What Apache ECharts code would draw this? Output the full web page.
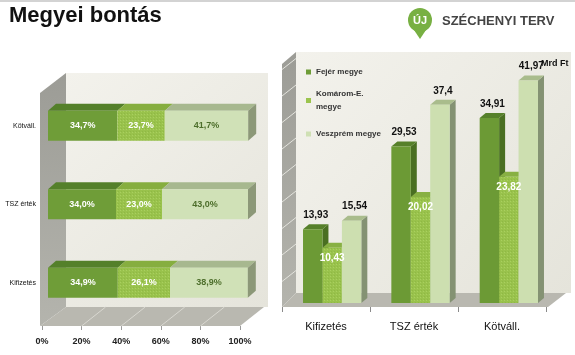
<!DOCTYPE html>
<html><head><meta charset="utf-8">
<script src="https://cdn.jsdelivr.net/npm/echarts@6/dist/echarts.min.js"></script>
<style>html,body{margin:0;padding:0;background:#fff}#c{width:575px;height:355px}</style>
</head><body><div id="c"></div>
<script>
const titleText = 'Megyei bontás';
const seriesNames = ['Fejér megye', 'Komárom-E. megye', 'Veszprém megye'];
const categories = ['Kifizetés', 'TSZ érték', 'Kötváll.'];
const shareFejer = [34.9, 34.0, 34.7];
const shareKomarom = [26.1, 23.0, 23.7];
const shareVeszprem = [38.9, 43.0, 41.7];
const pctTicks = [0, 20, 40, 60, 80, 100];
const amountFejer = [13.93, 29.53, 34.91];
const amountKomarom = [10.43, 20.02, 23.82];
const amountVeszprem = [15.54, 37.4, 41.97];
const amountTicks = [5, 10, 15, 20, 25, 30, 35, 40, 45];
const unitLabel = 'Mrd Ft';

const F = '"Liberation Sans", Arial, sans-serif';
const fmt = v => String(v).replace('.', ',');
const fmt1 = v => v.toFixed(1).replace('.', ',');

// subtle dotted texture for Komárom
const pc = document.createElement('canvas'); pc.width = 3; pc.height = 3;
const g = pc.getContext('2d');
g.fillStyle = '#99c24c'; g.fillRect(0, 0, 3, 3);
g.fillStyle = '#a9d05f'; g.fillRect(0, 0, 1, 1);
g.fillStyle = '#8fb944'; g.fillRect(1, 2, 1, 1);
const dotted = {image: pc, repeat: 'repeat'};

const legendColors = ['#6e9c37', '#9bc44e', '#cfe0b4'];
const L = [
  {front: '#6f9d38', top: '#54802a', side: '#4a6f22', label: '#ffffff'},
  {front: dotted, top: '#86ae3f', side: '#6f9432', label: '#ffffff'},
  {front: '#d0e1b7', top: '#a7b88f', side: '#8c9878', label: '#4d6e2b'}
];
const R = [
  {front: '#6c9a35', top: '#56802a', side: '#4a6f22'},
  {front: dotted, top: '#88b043', side: '#6f9432'},
  {front: '#cddfb0', top: '#a9bc8c', side: '#849273'}
];

const shares = [shareFejer, shareKomarom, shareVeszprem];
const amounts = [amountFejer, amountKomarom, amountVeszprem];
const leftData = shares.map((arr, s) => arr.map((v, c) => {
  let st = 0; for (let k = 0; k < s; k++) st += shares[k][c];
  return [st, c, st + v, v];
}));
const rightData = amounts.map(arr => arr.map((v, c) => [c, v]));

function leftRender(s) {
  return (params, api) => {
    const st = api.value(0), c = api.value(1), en = api.value(2), v = api.value(3);
    const a = api.coord([st, c]), b = api.coord([en, c]);
    const h = api.size([0, 1])[1] * 0.385;
    const yT = a[1] - h / 2, yB = a[1] + h / 2, x0 = a[0], x1 = b[0];
    const dx = 8, dy = 7;
    const ch = [
      {type: 'polygon', shape: {points: [[x0, yT], [x0 + dx, yT - dy], [x1 + dx, yT - dy], [x1, yT]]}, style: {fill: L[s].top}},
      {type: 'rect', shape: {x: x0, y: yT, width: x1 - x0, height: yB - yT}, style: {fill: L[s].front}}
    ];
    if (s === 2) ch.push({type: 'polygon', shape: {points: [[x1, yT], [x1 + dx, yT - dy], [x1 + dx, yB - dy], [x1, yB]]}, style: {fill: L[s].side}});
    ch.push({type: 'text', z2: 50, style: {text: fmt1(v) + '%', x: (x0 + x1) / 2, y: a[1], align: 'center', verticalAlign: 'middle', fill: L[s].label, font: 'bold 9px ' + F}});
    return {type: 'group', children: ch};
  };
}

function rightRender(s) {
  return (params, api) => {
    const c = api.value(0), v = api.value(1);
    const band = api.size([1, 0])[0], w = band * 0.22;
    const p = api.coord([c, v]), b = api.coord([c, 0]);
    const x0 = p[0] + (s - 1.5) * w, x1 = x0 + w, yT = p[1], yB = b[1];
    const dx = 6, dy = 5;
    const ch = [
      {type: 'polygon', shape: {points: [[x1, yT], [x1 + dx, yT - dy], [x1 + dx, yB - dy], [x1, yB]]}, style: {fill: R[s].side}},
      {type: 'polygon', shape: {points: [[x0, yT], [x0 + dx, yT - dy], [x1 + dx, yT - dy], [x1, yT]]}, style: {fill: R[s].top}},
      {type: 'rect', shape: {x: x0, y: yT, width: w, height: yB - yT}, style: {fill: R[s].front}}
    ];
    const inside = s === 1;
    ch.push({type: 'text', z2: 60, style: {
      text: fmt(v), x: (x0 + x1) / 2 + (inside ? 0 : 3), y: inside ? yT + 10.5 : yT - 14,
      align: 'center', verticalAlign: 'middle', fill: inside ? '#ffffff' : '#111111', font: 'bold 10px ' + F}});
    return {type: 'group', children: ch};
  };
}

const chart = echarts.init(document.getElementById('c'), null, {renderer: 'canvas'});

const series = [];
series.push({
  type: 'custom', xAxisIndex: 1, yAxisIndex: 1, silent: true, z: 1,
  data: pctTicks.slice(1, -1).map(t => [t, 0]),
  renderItem: (params, api) => {
    const p = api.coord([api.value(0), 0]);
    return {type: 'line', shape: {x1: p[0], y1: p[1], x2: p[0] + 24, y2: p[1] - 19}, style: {stroke: '#d9d8d1', lineWidth: 1}};
  }
});
series.push({
  type: 'custom', xAxisIndex: 2, yAxisIndex: 2, silent: true, z: 1,
  data: amountTicks.map(t => [0, t]),
  renderItem: (params, api) => {
    const y = api.coord([0, api.value(1)])[1];
    const x = params.coordSys.x;
    return {type: 'line', shape: {x1: x - 6, y1: y + 5, x2: x + 8, y2: y - 6}, style: {stroke: '#e4e4de', lineWidth: 1}};
  }
});
seriesNames.forEach((name, s) => {
  series.push({type: 'custom', name, xAxisIndex: 0, yAxisIndex: 0, itemStyle: {color: legendColors[s]},
    encode: {x: [0, 2], y: 1}, data: leftData[s], renderItem: leftRender(s)});
});
seriesNames.forEach((name, s) => {
  series.push({type: 'custom', name, xAxisIndex: 2, yAxisIndex: 2, itemStyle: {color: legendColors[s]},
    encode: {x: 0, y: 1}, data: rightData[s], renderItem: rightRender(s)});
});

const wallGrad = () => new echarts.graphic.LinearGradient(0, 0, 1, 1, [{offset: 0, color: '#f3f2ec'}, {offset: 1, color: '#e5e4db'}]);
const sideGrad = () => new echarts.graphic.LinearGradient(0, 0, 0, 1, [{offset: 0, color: '#9c9c96'}, {offset: 1, color: '#b4b4ad'}]);

chart.setOption({
  animation: false,
  backgroundColor: '#ffffff',
  title: {text: titleText, left: 4, top: 0, textStyle: {fontFamily: F, fontSize: 22, fontWeight: 'bold', color: '#111'}},
  legend: [
    {data: [seriesNames[0]], left: 306, top: 66.5, orient: 'vertical', padding: 0, itemWidth: 5, itemHeight: 5, icon: 'rect',
      selectedMode: false, textStyle: {fontFamily: F, fontSize: 8, fontWeight: 'bold', color: '#333', lineHeight: 11}},
    {data: [seriesNames[1]], left: 306, top: 81, orient: 'vertical', padding: 0, itemWidth: 5, itemHeight: 5, icon: 'rect',
      selectedMode: false, formatter: () => 'Komárom-E.\nmegye',
      textStyle: {fontFamily: F, fontSize: 8, fontWeight: 'bold', color: '#333', lineHeight: 13, padding: [13, 0, 0, 0]}},
    {data: [seriesNames[2]], left: 306, top: 128.5, orient: 'vertical', padding: 0, itemWidth: 5, itemHeight: 5, icon: 'rect',
      selectedMode: false, textStyle: {fontFamily: F, fontSize: 8, fontWeight: 'bold', color: '#333', lineHeight: 11}}
  ],
  grid: [
    {left: 48, width: 200, top: 86.5, height: 235.5, outerBoundsMode: 'none'},
    {left: 42, width: 198, top: 86, height: 240, outerBoundsMode: 'none'},
    {left: 288, width: 265, top: 38, height: 265, outerBoundsMode: 'none'},
    {left: 282, width: 264, top: 38, height: 269, outerBoundsMode: 'none'}
  ],
  xAxis: [
    {gridIndex: 0, type: 'value', min: 0, max: 100, show: false},
    {gridIndex: 1, type: 'value', min: 0, max: 100, interval: 20,
      axisLine: {show: false}, splitLine: {show: false},
      axisTick: {show: true, length: 4, lineStyle: {color: '#9a9a9a'}},
      axisLabel: {formatter: '{value}%', fontFamily: F, fontSize: 9, fontWeight: 'bold', color: '#222', margin: 11}},
    {gridIndex: 2, type: 'category', data: categories, show: false},
    {gridIndex: 3, type: 'category', data: categories,
      axisLine: {show: false}, splitLine: {show: false},
      axisTick: {show: true, length: 5, lineStyle: {color: '#8a8a8a'}},
      axisLabel: {fontFamily: F, fontSize: 11, color: '#111', margin: 14}}
  ],
  yAxis: [
    {gridIndex: 0, type: 'category', data: categories, axisLine: {show: false}, axisTick: {show: false},
      axisLabel: {fontFamily: F, fontSize: 7, color: '#111', margin: 12, padding: [18, 0, 0, 0]}},
    {gridIndex: 1, type: 'value', min: 0, max: 1, show: false},
    {gridIndex: 2, type: 'value', min: 0, max: 50, show: false},
    {gridIndex: 3, type: 'value', min: 0, max: 1, show: false}
  ],
  graphic: [
    {type: 'rect', z: 0, shape: {x: 0, y: 0, width: 575, height: 2}, style: {fill: '#d3d3d3'}},
    {type: 'polygon', z: 0, shape: {points: [[412, 27], [428, 27], [420, 39]]}, style: {fill: '#78b043'}},
    {type: 'circle', z: 0, shape: {cx: 420, cy: 20, r: 12}, style: {fill: '#78b043'}},
    {type: 'text', z: 1, style: {text: 'ÚJ', x: 420, y: 21, align: 'center', verticalAlign: 'middle', fill: '#fff', font: 'bold 11px ' + F}},
    {type: 'text', z: 1, style: {text: 'SZÉCHENYI TERV', x: 442, y: 21, align: 'left', verticalAlign: 'middle', fill: '#444', font: 'bold 13px ' + F}},
    {type: 'polygon', z: 0, shape: {points: [[66, 73], [268, 73], [268, 307], [66, 307]]}, style: {fill: wallGrad()}},
    {type: 'polygon', z: 0, shape: {points: [[40, 93], [66, 73], [66, 307], [40, 326]]}, style: {fill: sideGrad()}},
    {type: 'polygon', z: 0, shape: {points: [[40, 326], [66, 307], [264, 307], [240, 326]]}, style: {fill: '#b9b8b0'}},
    {type: 'polygon', z: 0, shape: {points: [[296, 52], [571, 52], [571, 293], [296, 293]]}, style: {fill: wallGrad()}},
    {type: 'polygon', z: 0, shape: {points: [[282, 64], [296, 52], [296, 293], [282, 307]]}, style: {fill: sideGrad()}},
    {type: 'polygon', z: 0, shape: {points: [[282, 307], [296, 293], [566, 293], [548, 307]]}, style: {fill: '#b9b8b0'}},
    {type: 'text', z: 100, style: {text: unitLabel, x: 541, y: 64, align: 'left', verticalAlign: 'middle', fill: '#111', font: 'bold 9px ' + F}}
  ],
  series
});
</script>
</body></html>
